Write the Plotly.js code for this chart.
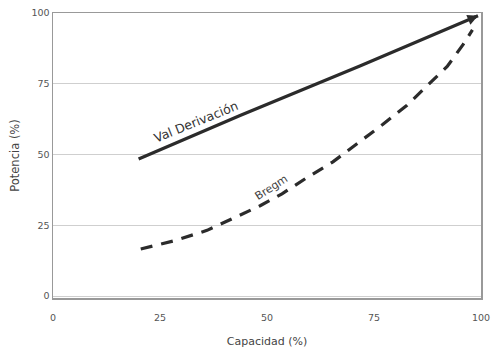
<!DOCTYPE html>
<html><head><meta charset="utf-8">
<script src="https://cdn.plot.ly/plotly-3.0.1.min.js"></script>
<style>body{margin:0;background:#fff}#c{width:493px;height:354px}</style>
</head><body><div id="c"></div>
<script>
const valX = [20, 43.7, 71.7, 99.3];
const valY = [48.4, 63.8, 81.3, 99];
const bregX = [20.5, 22.2, 28.5, 36, 43, 48.4, 53.5, 59.3, 65.4, 71.7, 77.1, 82.7, 87.6, 92.1, 95.8, 98];
const bregY = [16.6, 17.2, 19.6, 23.2, 28.1, 31.9, 36.1, 41.8, 47.4, 54.4, 60.7, 67.4, 74.7, 81.1, 88.8, 94];
const xTicks = [0, 25, 50, 75, 100];
const yTicks = [0, 25, 50, 75, 100];
const labels = ["Val Derivación", "Bregm"];

const traces = [
  {x: valX, y: valY, mode: 'lines', line: {color: '#2b2b2b', width: 3.2}, hoverinfo: 'skip'},
  {x: bregX, y: bregY, mode: 'lines', line: {color: '#2b2b2b', width: 3.2, dash: '12px,9px'}, hoverinfo: 'skip'}
];
const n = valX.length;
const layout = {
  width: 493, height: 354,
  margin: {l: 53, r: 12, t: 13, b: 56},
  paper_bgcolor: '#fff', plot_bgcolor: '#fff',
  showlegend: false,
  font: {family: 'DejaVu Sans, sans-serif', color: '#555', size: 9},
  xaxis: {range: [0, 100], tickvals: xTicks, ticktext: xTicks.map(String), showgrid: false, zeroline: false,
    showline: true, linecolor: '#999', linewidth: 1.5, mirror: true, ticks: 'outside', ticklen: 10, tickcolor: 'rgba(0,0,0,0)',
    tickfont: {size: 9.5, color: '#555'},
    title: {text: 'Capacidad (%)', font: {size: 11, color: '#444'}, standoff: 15}},
  yaxis: {range: [-0.7, 100], tickvals: yTicks, ticktext: yTicks.map(String), showgrid: true, gridcolor: '#cfcfcf', gridwidth: 1,
    zeroline: false, showline: true, linecolor: '#999', linewidth: 1.5, mirror: true, ticks: '',
    tickfont: {size: 9.5, color: '#555'},
    title: {text: 'Potencia (%)', font: {size: 11.5, color: '#444'}, standoff: 9}},
  annotations: [
    {x: valX[n-1], y: valY[n-1], ax: valX[n-1] - 2.5, ay: valY[n-1] - 1.6, axref: 'x', ayref: 'y', xref: 'x', yref: 'y',
     showarrow: true, arrowhead: 2, arrowsize: 0.7, arrowwidth: 3, arrowcolor: '#2b2b2b', text: ''},
    {x: 33.5, y: 61.8, xref: 'x', yref: 'y', text: labels[0], showarrow: false, textangle: -22,
     font: {size: 12.5, color: '#333', family: 'DejaVu Sans, sans-serif'}},
    {x: 51, y: 38.5, xref: 'x', yref: 'y', text: labels[1], showarrow: false, textangle: -33,
     font: {size: 11, color: '#444', family: 'DejaVu Sans, sans-serif'}}
  ]
};
Plotly.newPlot('c', traces, layout, {displayModeBar: false, staticPlot: true});
</script></body></html>
